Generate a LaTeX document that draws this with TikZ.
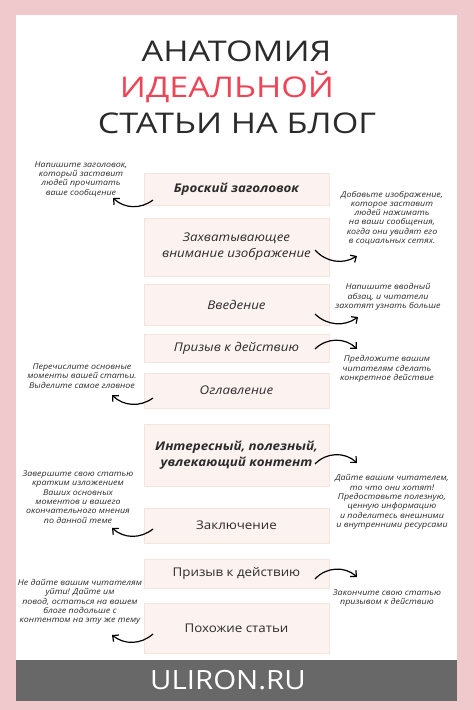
\documentclass[tikz,border=0pt]{standalone}
\usepackage{fontspec}
\setmainfont{Open Sans}[FakeStretch=1.11]
\newfontfamily\titlefont{Open Sans}[FakeStretch=1.2]
\usetikzlibrary{arrows.meta,positioning,calc}
\definecolor{FrameRose}{HTML}{EFC9CB}
\definecolor{BoxRose}{HTML}{FCF3F0}
\definecolor{BoxEdge}{HTML}{F5E3DE}
\definecolor{TitleRed}{HTML}{EE4456}
\definecolor{InkGray}{HTML}{2B2B2B}
\definecolor{BandGray}{HTML}{686868}
\begin{document}
\begin{tikzpicture}[x=1pt,y=-1pt,
part/.style={draw=BoxEdge,fill=BoxRose,line width=0.8pt,minimum width=185pt,align=center,inner sep=2pt,outer sep=0pt,text=InkGray,font=\fontsize{12}{16}\selectfont\itshape},
upr/.style={font=\fontsize{12}{16}\selectfont},
note/.style={align=center,text=InkGray,font=\fontsize{8}{9.3}\selectfont\itshape},
curvy/.style={line width=1.2pt,-{Straight Barb[length=4.5pt,width=8.5pt]}},
big/.style={anchor=base,font=\titlefont\fontsize{28.5}{29}\selectfont}]
\useasboundingbox (0,0) rectangle (474,710);
\fill[FrameRose] (0,0) rectangle (474,710);
\fill[white] (16,15) rectangle (457,660);
\fill[BandGray] (16,660) rectangle (457,701);
\node[big,text=InkGray] (t1) at (236.5,61) {АНАТОМИЯ};
\node[big,text=TitleRed] (t2) at (227,97) {ИДЕАЛЬНОЙ};
\node[big,text=InkGray] (t3) at (237,133) {СТАТЬИ НА БЛОГ};
\node[anchor=base,text=white,font=\fontsize{26.5}{26.5}\selectfont] (site) at (228,689) {ULIRON.RU};
\node[part,minimum height=32pt,font=\fontsize{12}{16}\selectfont\bfseries\itshape] (head) at (236.5,189) {Броский заголовок};
\node[part,minimum height=58pt,below=13pt of head] (img) {Захватывающее\\внимание изображение};
\node[part,minimum height=41pt,below=8pt of img] (intro) {Введение};
\node[part,minimum height=28pt,below=9pt of intro] (cta) {Призыв к действию};
\node[part,minimum height=35pt,below=11pt of cta] (toc) {Оглавление};
\node[part,minimum height=62pt,below=16pt of toc,font=\fontsize{12}{16}\selectfont\bfseries\itshape] (body) {Интересный, полезный,\\увлекающий контент};
\node[part,upr,minimum height=35pt,below=22pt of body] (concl) {Заключение};
\node[part,upr,minimum height=29pt,below=16pt of concl] (cta2) {Призыв к действию};
\node[part,upr,minimum height=50pt,below=15pt of cta2] (rel) {Похожие статьи};
\node[note] (nhead) at (81,179) {Напишите заголовок,\\который заставит\\людей прочитать\\ваше сообщение};
\node[note] (nimg) at (392,218) {Добавьте изображение,\\которое заставит\\людей нажимать\\на ваши сообщения,\\когда они увидят его\\в социальных сетях.};
\node[note] (nintro) at (388,297) {Напишите вводный\\абзац, и читатели\\захотят узнать больше};
\node[note] (ncta) at (387,369) {Предложите вашим\\читателям сделать\\конкретное действие};
\node[note] (ntoc) at (82,376) {Перечислите основные\\моменты вашей статьи.\\Выделите самое главное};
\node[note] (nbody) at (392,502) {Дайте вашим читателем,\\то что они хотят!\\Предоставьте полезную,\\ценную информацию\\и поделитесь внешними\\и внутренними ресурсами};
\node[note] (nconcl) at (78,497) {Завершите свою статью\\кратким изложением\\Ваших основных\\моментов и вашего\\окончательного мнения\\по данной теме};
\node[note] (ncta2) at (387,598) {Закончите свою статью\\призывом к действию};
\node[note] (nrel) at (80,602) {Не дайте вашим читателям\\уйти! Дайте им\\повод, остаться на вашем\\блоге подольше с\\контентом на эту же тему};
\draw[curvy] ($(head.west)+(9,11)$) to[bend left=40] ($(nhead)+(32,19)$);
\draw[curvy] ($(img.east)+(-14,3)$) to[bend right=40] ($(nimg)+(-35,38)$);
\draw[curvy] ($(intro.east)+(-14,9.5)$) to[bend right=40] ($(nintro)+(-30,20)$);
\draw[curvy] ($(cta.east)+(-14,1)$) to[bend left=45] ($(ncta)+(-30,-20)$);
\draw[curvy] ($(toc.west)+(9,7.5)$) to[bend left=40] ($(ntoc)+(30,19)$);
\draw[curvy] ($(body.east)+(-14,9)$) to[bend left=45] ($(nbody)+(-35,-39)$);
\draw[curvy] ($(concl.west)+(9,3.5)$) to[bend left=40] ($(nconcl)+(34,31)$);
\draw[curvy] ($(cta2.east)+(-14,5.5)$) to[bend left=45] ($(ncta2)+(-30,-21)$);
\draw[curvy] ($(rel.west)+(9,6)$) to[bend left=40] ($(nrel)+(32,33)$);
\end{tikzpicture}
\end{document}
